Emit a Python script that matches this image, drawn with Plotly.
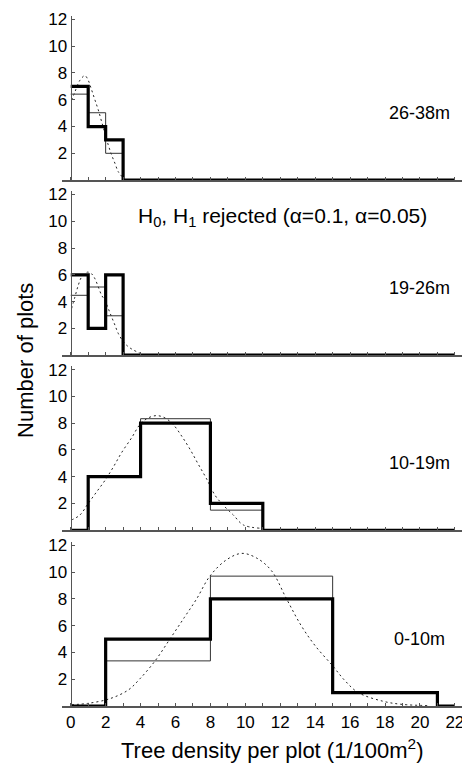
import plotly.graph_objects as go

# ---------------- data ----------------
panel_labels = ["26-38m", "19-26m", "10-19m", "0-10m"]

# bin edges (tree density per plot) and counts, per height class
edges_26_38 = [0, 1, 2, 3, 22]
obs_26_38 = [7, 4, 3, 0, 0]
exp_edges_26_38 = [0, 1, 2, 3]
exp_26_38 = [6.42, 5.03, 2.0, 0]
fit_x_26_38 = [0.05, 0.24, 0.53, 0.81, 1.0, 1.2, 1.39, 1.58, 1.77, 1.96, 2.15, 2.34, 2.53, 2.72, 2.95]
fit_y_26_38 = [5.97, 6.59, 7.46, 7.8, 7.46, 6.72, 5.97, 5.23, 4.36, 3.49, 2.62, 1.88, 1.26, 0.63, 0.25]

edges_19_26 = [0, 1, 2, 3, 22]
obs_19_26 = [6, 2, 6, 0, 0]
exp_edges_19_26 = [0, 1, 2, 3]
exp_19_26 = [4.47, 5.09, 2.94, 0]
fit_x_19_26 = [0.05, 0.24, 0.43, 0.62, 0.95, 1.2, 1.39, 1.58, 1.77, 1.96, 2.15, 2.34, 2.53, 2.72, 3.01, 3.29, 3.58, 3.96]
fit_y_19_26 = [3.48, 4.35, 5.21, 5.83, 6.2, 6.07, 5.7, 5.09, 4.47, 4.1, 3.48, 2.86, 2.25, 1.63, 1.01, 0.64, 0.39, 0.15]

edges_10_19 = [0, 1, 4, 8, 11, 22]
obs_10_19 = [0, 4, 8, 2, 0, 0]
exp_edges_10_19 = [0, 1, 4, 8, 11]
exp_10_19 = [0, 4.0, 8.33, 1.5, 0]
fit_x_10_19 = [0.05, 0.53, 1.0, 1.48, 1.96, 2.43, 2.92, 3.49, 3.96, 4.44, 4.92, 5.4, 5.87, 6.35, 6.83, 7.3, 7.78, 8.26, 8.73, 9.31, 9.88, 10.84]
fit_y_10_19 = [0.77, 1.14, 2.0, 2.86, 3.72, 4.7, 5.81, 6.91, 7.89, 8.39, 8.56, 8.39, 7.89, 7.04, 6.05, 4.94, 3.84, 2.62, 1.88, 1.14, 0.4, 0.15]

edges_0_10 = [0, 2, 8, 15, 21, 22]
obs_0_10 = [0, 5, 8, 1, 0, 0]
exp_edges_0_10 = [0, 2, 8, 15, 21]
exp_0_10 = [0, 3.37, 9.7, 0.95, 0]
fit_x_0_10 = [0.05, 1.0, 2.25, 3.3, 3.96, 4.82, 5.68, 6.5, 7.21, 7.97, 8.9, 9.79, 10.65, 11.5, 12.36, 13.2, 14.0, 14.98, 15.7, 16.47, 17.9, 19.0, 20.5]
fit_y_0_10 = [0.1, 0.2, 0.55, 1.2, 2.03, 3.35, 5.0, 6.6, 8.0, 9.7, 10.9, 11.4, 11.05, 10.1, 8.0, 6.0, 4.5, 3.03, 1.9, 1.0, 0.35, 0.12, 0.03]

y_ticks = [2, 4, 6, 8, 10, 12]
x_tick_step = 2
x_minor_step = 1

x_title = "Tree density per plot (1/100m<sup>2</sup>)"
y_title = "Number of plots"
test_text = "H<sub>0</sub>, H<sub>1</sub> rejected (α=0.1, α=0.05)"

panels = [
    (edges_26_38, obs_26_38, exp_edges_26_38, exp_26_38, fit_x_26_38, fit_y_26_38),
    (edges_19_26, obs_19_26, exp_edges_19_26, exp_19_26, fit_x_19_26, fit_y_19_26),
    (edges_10_19, obs_10_19, exp_edges_10_19, exp_10_19, fit_x_10_19, fit_y_10_19),
    (edges_0_10, obs_0_10, exp_edges_0_10, exp_0_10, fit_x_0_10, fit_y_0_10),
]

# ---------------- layout ----------------
# the page body adds an 8px margin, so the figure is 8px smaller and shifted
FONT = "Liberation Sans, Arial, Helvetica, sans-serif"
domains = [[0.760, 0.997], [0.507, 0.744], [0.254, 0.491], [0.0, 0.237]]
x_range = [-0.5, 22.58]
yaxis_pos = (0 - x_range[0]) / (x_range[1] - x_range[0])
AX = "#555555"

fig = go.Figure()
layout = dict(
    width=462, height=756,
    margin=dict(l=54, r=5, t=0, b=58),
    paper_bgcolor="white", plot_bgcolor="white",
    showlegend=False,
    font=dict(family=FONT, size=17, color="black"),
)

for i, (edges, obs, eedges, exp, fx, fy) in enumerate(panels):
    n = "" if i == 0 else str(i + 1)
    xa, ya = "x" + n, "y" + n
    fig.add_trace(go.Scatter(x=fx, y=fy, mode="lines", line=dict(color="#222", width=1, dash="2px,3px"),
                             line_shape="spline", xaxis=xa, yaxis=ya, hoverinfo="skip"))
    fig.add_trace(go.Scatter(x=eedges, y=exp, mode="lines", line=dict(color="#333", width=1, shape="hv"),
                             xaxis=xa, yaxis=ya, hoverinfo="skip"))
    fig.add_trace(go.Scatter(x=edges, y=obs, mode="lines", line=dict(color="black", width=3.2, shape="hv"),
                             xaxis=xa, yaxis=ya, hoverinfo="skip"))
    last = (i == 3)
    layout["xaxis" + n] = dict(
        domain=[0, 1], range=x_range, anchor=ya, showgrid=False, zeroline=False,
        showline=True, linecolor=AX, linewidth=1.5,
        tickmode="linear", tick0=0, dtick=x_tick_step,
        ticks="inside", ticklen=3, tickcolor=AX, tickwidth=1,
        minor=dict(tick0=0, dtick=x_minor_step, ticks="inside", ticklen=3, tickcolor=AX, tickwidth=1, showgrid=False),
        showticklabels=last,
        tickfont=dict(size=17, family=FONT, color="black"),
    )
    layout["yaxis" + n] = dict(
        domain=domains[i], range=[0, 12.25], anchor="free", position=yaxis_pos,
        showgrid=False, zeroline=False, showline=True, linecolor=AX, linewidth=1.2,
        ticks="inside", ticklen=3, tickcolor=AX, tickwidth=1,
        tickvals=y_ticks, tickfont=dict(size=17, family=FONT, color="black"),
    )

annotations = []
for i, lab in enumerate(panel_labels):
    n = "" if i == 0 else str(i + 1)
    annotations.append(dict(text=lab, x=20, y=5, xref="x" + n, yref="y" + n, showarrow=False,
                            xanchor="center", yanchor="middle", font=dict(size=18, family=FONT, color="black")))
annotations.append(dict(text=test_text, x=12.1, y=10.3, xref="x2", yref="y2", showarrow=False,
                        xanchor="center", yanchor="middle", font=dict(size=21, family=FONT, color="black")))
annotations.append(dict(text=x_title, x=0.522, y=-0.062, xref="paper", yref="paper", showarrow=False,
                        xanchor="center", yanchor="middle", font=dict(size=22, family=FONT, color="black")))
annotations.append(dict(text=y_title, x=-0.092, y=0.50, xref="paper", yref="paper", showarrow=False,
                        textangle=-90, xanchor="center", yanchor="middle", font=dict(size=22, family=FONT, color="black")))
layout["annotations"] = annotations

fig.update_layout(**layout)
fig.write_html("out.html")
